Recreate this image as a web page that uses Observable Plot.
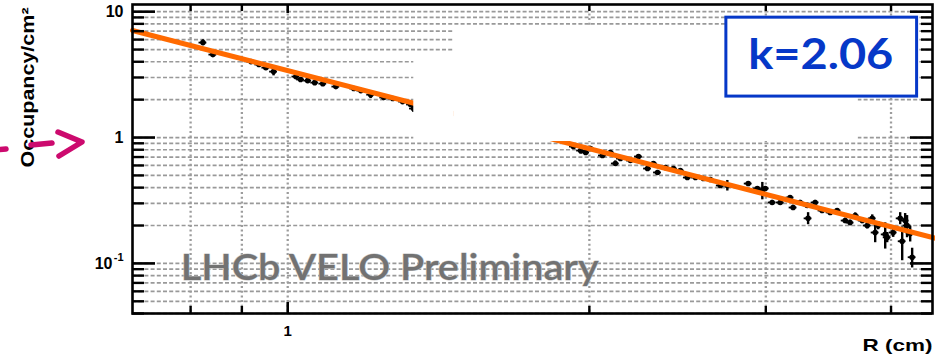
<!DOCTYPE html>
<html><head><meta charset="utf-8">
<script src="https://cdn.jsdelivr.net/npm/d3@7"></script>
<script src="https://cdn.jsdelivr.net/npm/@observablehq/plot@0.6"></script>
<style>html,body{margin:0;padding:0;background:#fff;overflow:hidden}</style>
</head><body><div id="chart"></div>
<script>
// ---- data ----
const leftR   = [0.823,0.842,0.919,0.936,0.951,0.968,1.019,1.030,1.047,1.064,1.084,1.117,1.164,1.183,1.210,1.247,1.273,1.302,1.326,1.335];
const leftOcc = [5.68,4.56,4.01,3.80,3.59,3.34,3.05,2.89,2.83,2.73,2.68,2.54,2.45,2.36,2.19,2.08,2.04,1.93,1.83,1.70];
const leftErr = [0.30,0.15,0.10,0.10,0.10,0.25,0.08,0.08,0.08,0.08,0.08,0.08,0.07,0.07,0.15,0.06,0.06,0.06,0.06,0.12];

const rightR   = [1.928,1.960,1.983,2.005,2.061,2.099,2.123,2.148,2.198,2.239,2.286,2.317,2.339,2.382,2.426,2.465,2.505,2.552,2.599,2.641,2.702,2.746,2.881,2.942,2.976,2.996,3.044,3.101,3.172,3.194,3.246,3.299,3.306,3.360,3.414,3.478,3.534,3.600,3.641,3.684,3.744,3.787,3.831,3.857,3.884,3.947,3.965,4.020,4.085,4.104,4.132,4.150,4.180,4.199];
const rightOcc = [0.848,0.788,0.760,0.818,0.720,0.760,0.622,0.681,0.657,0.707,0.567,0.622,0.528,0.578,0.567,0.547,0.481,0.481,0.473,0.464,0.416,0.416,0.431,0.394,0.380,0.394,0.305,0.305,0.334,0.278,0.305,0.289,0.228,0.305,0.263,0.254,0.263,0.219,0.211,0.240,0.219,0.200,0.228,0.176,0.200,0.170,0.161,0.176,0.228,0.150,0.219,0.200,0.173,0.112];
const rightErr = [0.02,0.05,0.02,0.02,0.02,0.02,0.03,0.02,0.02,0.02,0.02,0.02,0.02,0.02,0.02,0.015,0.015,0.015,0.015,0.015,0.015,0.04,0.012,0.012,0.06,0.012,0.012,0.012,0.012,0.012,0.012,0.012,0.025,0.012,0.01,0.01,0.01,0.01,0.01,0.012,0.012,0.012,0.015,0.03,0.015,0.04,0.015,0.015,0.025,0.045,0.03,0.04,0.025,0.02];
const binHalfWidth = 0.009; // relative half-width of the R bins

// power-law fit  occ = A * R^-k
const fitK = 2.06;
const fitA = 3.4;
const fitRange = [0.7, 4.46];

// axes
const xDomain = [0.7, 4.4];
const yDomain = [0.04, 11.4];
const xGridValues = [0.8, 0.9, 1, 2, 3, 4];
const xMajorTicks = [1];
const xMinorTicks = [0.8, 0.9, 2, 3, 4];
const xTickLabels = ["1"];
const yMajorTicks = [0.1, 1, 10];
const yMinorTicks = [0.04,0.05,0.06,0.07,0.08,0.09,0.2,0.3,0.4,0.5,0.6,0.7,0.8,0.9,2,3,4,5,6,7,8,9];
const yGridValues = [0.04,0.05,0.06,0.07,0.08,0.09,0.1,0.2,0.3,0.4,0.5,0.6,0.7,0.8,0.9,1,2,3,4,5,6,7,8,9,10];
const yTickValues = [10, 1, 0.1];
const yTickText   = ["10", "1", "10"];
const yTickSup    = ["", "", "-1"];

// white patches covering part of the original figure (data units)
const maskX1 = [1.336, 1.464, 2.74];
const maskX2 = [1.464, 2.74, 3.71];
const maskY1 = [0.93, 0.93, 0.93];
const maskY2 = [4.81, 7.6, 2.115];

// annotation box
const kLabel = "k=2.06";
const kBox = {x1: 2.74, x2: 4.247, y1: 2.115, y2: 8.96, tx: 3.404, ty: 4.45};
const watermark = {text: "LHCb VELO Preliminary", x: 0.782, y: 0.0905};
const yTitle = "Occupancy/cm\u00B2";
const xTitle = "R (cm)";

// ---- build tables ----
const pts = leftR.map((r,i)=>({r, occ:leftOcc[i], err:leftErr[i]}))
  .concat(rightR.map((r,i)=>({r, occ:rightOcc[i], err:rightErr[i]})));
const fitLine = fitRange.map(r=>({r, occ: fitA*Math.pow(r,-fitK)}));
const masks = maskX1.map((x,i)=>({x1:x, x2:maskX2[i], y1:maskY1[i], y2:maskY2[i]}));
const yLab = yTickValues.map((v,i)=>({v, t:yTickText[i], s:yTickSup[i]}));

const W = 935, H = 364;
const mL = 132, mR = 3, mT = 4, mB = 51;
const iw = W - mL - mR, ih = H - mT - mB;
const ink = "black";
const blue = "#0638c8";

const chart = Plot.plot({
  width: W, height: H,
  marginLeft: mL, marginRight: mR, marginTop: mT, marginBottom: mB,
  x: {type: "log", domain: xDomain, axis: null},
  y: {type: "log", domain: yDomain, axis: null},
  style: {background: "white", fontFamily: "'Liberation Sans', Arial, sans-serif", overflow: "visible"},
  marks: [
    Plot.ruleY(yGridValues, {y: d=>d, stroke: "#999999", strokeWidth: 1.7, strokeDasharray: "4,2.2"}),
    Plot.ruleX(xGridValues, {x: d=>d, stroke: "#9c9c9c", strokeWidth: 2.3, strokeDasharray: "2,2.7"}),
    Plot.text([watermark], {x: "x", y: "y", text: "text", textAnchor: "start", lineAnchor: "middle",
      fontFamily: "Lato, 'Open Sans', sans-serif", fontWeight: 600, fontSize: 36, fill: "#727272",
      stroke: "#c8c8c8", strokeWidth: 1, paintOrder: "stroke"}),
    Plot.ruleX(pts, {x: "r", y1: d=>d.occ-d.err, y2: d=>d.occ+d.err, stroke: ink, strokeWidth: 2.4}),
    Plot.ruleY(pts, {y: "occ", x1: d=>d.r*(1-binHalfWidth), x2: d=>d.r*(1+binHalfWidth), stroke: ink, strokeWidth: 1.8}),
    Plot.dot(pts, {x: "r", y: "occ", r: 2.8, fill: ink}),
    Plot.line(fitLine, {x: "r", y: "occ", stroke: "#ff6a00", strokeWidth: 5}),
    Plot.rect(masks, {x1: "x1", x2: "x2", y1: "y1", y2: "y2", fill: "white"}),
    Plot.rect([kBox], {x1: "x1", x2: "x2", y1: "y1", y2: "y2", fill: "white", stroke: blue, strokeWidth: 3}),
    Plot.text([kBox], {x: "tx", y: "ty", text: ()=>kLabel, fill: blue, fontSize: 42,
      fontFamily: "Lato, 'Open Sans', sans-serif", fontWeight: 700, textAnchor: "middle", lineAnchor: "middle"}),
    // ticks, inward on all four sides
    Plot.ruleY(yMinorTicks, {y: d=>d, insetRight: iw-12, stroke: ink, strokeWidth: 2.4}),
    Plot.ruleY(yMajorTicks, {y: d=>d, insetRight: iw-23, stroke: ink, strokeWidth: 2.6}),
    Plot.ruleY(yMinorTicks, {y: d=>d, insetLeft: iw-11, stroke: ink, strokeWidth: 2.4}),
    Plot.ruleY(yMajorTicks, {y: d=>d, insetLeft: iw-22, stroke: ink, strokeWidth: 2.6}),
    Plot.ruleX(xMinorTicks, {x: d=>d, insetTop: ih-7, stroke: ink, strokeWidth: 2.4}),
    Plot.ruleX(xMajorTicks, {x: d=>d, insetTop: ih-11, stroke: ink, strokeWidth: 2.6}),
    Plot.ruleX(xMinorTicks, {x: d=>d, insetBottom: ih-7, stroke: ink, strokeWidth: 2.4}),
    Plot.ruleX(xMajorTicks, {x: d=>d, insetBottom: ih-9, stroke: ink, strokeWidth: 2.6}),
    Plot.frame({stroke: ink, strokeWidth: 2.6}),
    // tick labels
    Plot.text(yLab.filter(d=>!d.s), {y: "v", text: "t", frameAnchor: "left", dx: -9, textAnchor: "end",
      fontWeight: "bold", fontSize: 16, fill: ink}),
    Plot.text(yLab.filter(d=>d.s), {y: "v", text: "t", frameAnchor: "left", dx: -20, textAnchor: "end",
      fontWeight: "bold", fontSize: 16, fill: ink}),
    Plot.text(yLab.filter(d=>d.s), {y: "v", text: "s", frameAnchor: "left", dx: -9, dy: -6, textAnchor: "end",
      fontWeight: "bold", fontSize: 11, fill: ink}),
    Plot.text(xMajorTicks, {x: d=>d, text: (d,i)=>xTickLabels[i], frameAnchor: "bottom", dy: 22,
      fontWeight: "bold", fontSize: 15, fill: ink}),
    Plot.text([xTitle], {text: d=>d, frameAnchor: "bottom-right", dy: 37, textAnchor: "end",
      fontWeight: "bold", fontSize: 17, fill: ink}),
    Plot.text([yTitle], {text: d=>d, y: [2.5], frameAnchor: "left", dx: -104, rotate: -90,
      textAnchor: "middle", lineAnchor: "middle", fontWeight: "bold", fontSize: 18, fill: ink})
  ]
});
document.getElementById("chart").appendChild(chart);

// stretch the wide display texts to the widths seen in the figure
const widths = {[xTitle]: 70, [yTitle]: 160, [kLabel]: 145, [watermark.text]: 418};
d3.select(chart).selectAll("text").each(function(){
  const w = widths[this.textContent];
  if (w) { this.setAttribute("textLength", w); this.setAttribute("lengthAdjust", "spacingAndGlyphs"); }
});

// magenta pointer arrow in the left margin
const g = d3.select(chart).append("g").attr("fill", "none").attr("stroke", "#cc0a6e")
  .attr("stroke-width", 5.5).attr("stroke-linecap", "round").attr("stroke-linejoin", "round");
g.append("path").attr("d", "M-4,150 L6,149");
g.append("path").attr("d", "M31,145 L52,143");
g.append("path").attr("d", "M58,132 L82,142 L59,156");
</script></body></html>
